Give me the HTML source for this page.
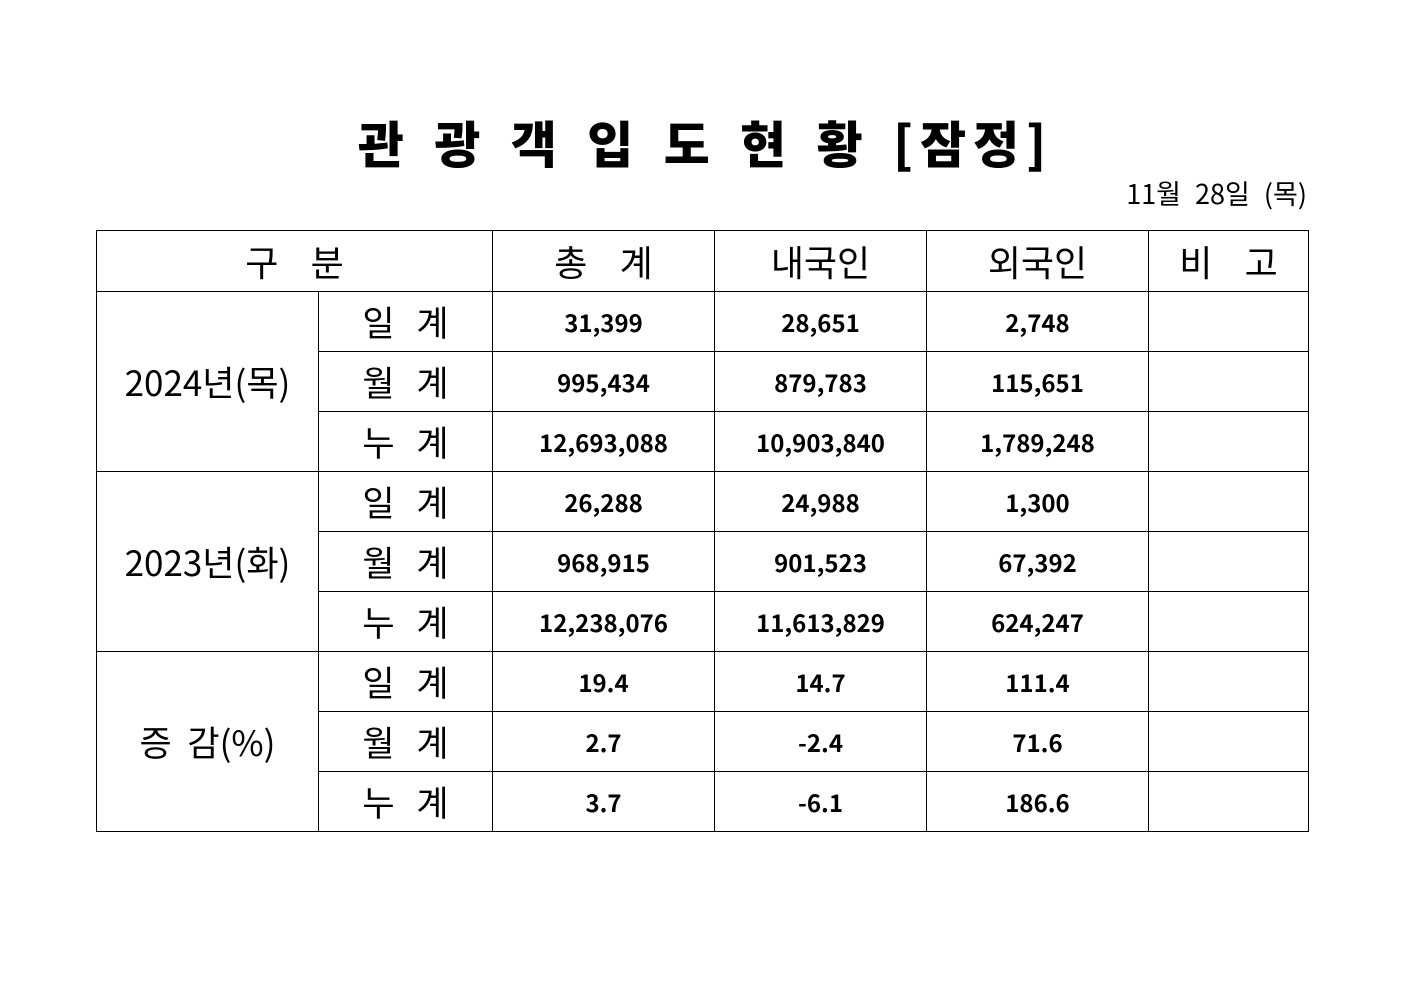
<!DOCTYPE html>
<html><head><meta charset="utf-8"><style>
body{margin:0;width:1403px;height:992px;background:#fff;position:relative;font-family:"Liberation Sans","Noto Sans CJK KR","NanumGothic",sans-serif;color:#000}
.title{position:absolute;left:4px;width:1403px;top:106px;text-align:center;font-size:50px;font-weight:900;letter-spacing:7px;word-spacing:5px;font-family:"Noto Sans CJK KR","NanumGothic",sans-serif}
.date{position:absolute;right:96px;top:173px;font-size:27px;word-spacing:8px;font-family:"Noto Sans CJK KR",sans-serif}
table{position:absolute;left:96px;top:230px;border-collapse:collapse;table-layout:fixed}
td{border:1.3px solid #000;text-align:center;padding:0;height:59px;line-height:1;font-size:24px;font-weight:bold;font-family:"Noto Sans CJK KR",sans-serif;overflow:hidden}
td.h{font-weight:normal;font-size:36px;height:60px}
td.l{font-weight:normal;font-size:35px;word-spacing:14px}
td.y{font-weight:normal;font-size:35px}
</style></head><body>
<div class="title">관 광 객 입 도 현 황 [잠정]</div>
<div class="date">11월 28일 (목)</div>
<table>
<colgroup><col style="width:222px"><col style="width:174px"><col style="width:222px"><col style="width:212px"><col style="width:222px"><col style="width:160px"></colgroup>
<tr><td class="h" colspan="2">구&nbsp;&nbsp;&nbsp;&nbsp;분</td><td class="h">총&nbsp;&nbsp;&nbsp;&nbsp;계</td><td class="h">내국인</td><td class="h">외국인</td><td class="h">비&nbsp;&nbsp;&nbsp;&nbsp;고</td></tr>
<tr><td class="y" rowspan="3">2024년(목)</td><td class="l">일 계</td><td>31,399</td><td>28,651</td><td>2,748</td><td></td></tr>
<tr><td class="l">월 계</td><td>995,434</td><td>879,783</td><td>115,651</td><td></td></tr>
<tr><td class="l">누 계</td><td>12,693,088</td><td>10,903,840</td><td>1,789,248</td><td></td></tr>
<tr><td class="y" rowspan="3">2023년(화)</td><td class="l">일 계</td><td>26,288</td><td>24,988</td><td>1,300</td><td></td></tr>
<tr><td class="l">월 계</td><td>968,915</td><td>901,523</td><td>67,392</td><td></td></tr>
<tr><td class="l">누 계</td><td>12,238,076</td><td>11,613,829</td><td>624,247</td><td></td></tr>
<tr><td class="y" rowspan="3">증&nbsp;&nbsp;감(%)</td><td class="l">일 계</td><td>19.4</td><td>14.7</td><td>111.4</td><td></td></tr>
<tr><td class="l">월 계</td><td>2.7</td><td>-2.4</td><td>71.6</td><td></td></tr>
<tr><td class="l">누 계</td><td>3.7</td><td>-6.1</td><td>186.6</td><td></td></tr>
</table>
</body></html>
